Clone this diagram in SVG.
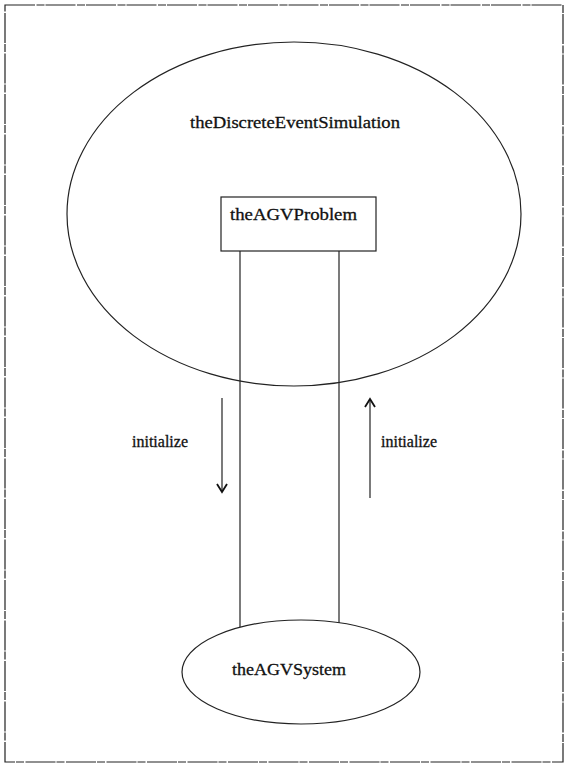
<svg xmlns="http://www.w3.org/2000/svg" width="569" height="767" viewBox="0 0 569 767">
<style>
.s{fill:none;stroke:#222;stroke-width:1.2}
.h{fill:none;stroke:#111;stroke-width:1.8;stroke-linejoin:miter}
.t{font-family:"Liberation Serif","Times New Roman",serif;font-size:17px;fill:#111;stroke:#111;stroke-width:0.3}
.l{font-family:"Liberation Serif","Times New Roman",serif;font-size:16px;fill:#111;stroke:#111;stroke-width:0.3}
</style>
<rect width="569" height="767" fill="#fff"/>
<rect class="s" x="5" y="5" width="558" height="757" stroke-dasharray="30 1.5 8 1"/>
<g id="theDiscreteEventSimulation">
<ellipse class="s" cx="294" cy="214" rx="227" ry="172"/>
<text class="t" x="190" y="128" textLength="210" lengthAdjust="spacingAndGlyphs">theDiscreteEventSimulation</text>
</g>
<g id="theAGVProblem">
<rect class="s" x="221" y="197" width="155" height="54"/>
<text class="t" x="230" y="220" textLength="127" lengthAdjust="spacingAndGlyphs">theAGVProblem</text>
</g>
<g id="theAGVSystem">
<ellipse class="s" cx="301" cy="672" rx="119" ry="52"/>
<text class="t" x="232" y="675" textLength="114" lengthAdjust="spacingAndGlyphs">theAGVSystem</text>
</g>
<g id="connectors">
<line class="s" x1="240" y1="251" x2="240" y2="627"/>
<line class="s" x1="339" y1="251" x2="339" y2="623"/>
<line class="s" x1="222" y1="398" x2="222" y2="491"/>
<polyline class="h" points="217,484 222,492 227,484"/>
<line class="s" x1="370" y1="400" x2="370" y2="498"/>
<polyline class="h" points="365,407 370,399 375,407"/>
<text class="l" x="132" y="447">initialize</text>
<text class="l" x="381" y="447">initialize</text>
</g>
</svg>
